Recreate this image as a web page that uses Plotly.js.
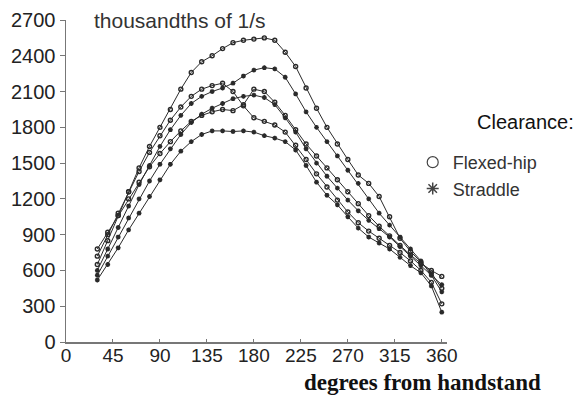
<!DOCTYPE html>
<html>
<head>
<meta charset="utf-8">
<script src="https://cdn.plot.ly/plotly-3.0.1.min.js"></script>
<style>html,body{margin:0;padding:0;background:#fff;}#chart{width:580px;height:396px;}</style>
</head>
<body>
<div id="chart"></div>
<script>
// degrees from handstand
const degrees = [30,40,50,60,70,80,90,100,110,120,130,140,150,160,170,180,190,200,210,220,230,240,250,260,270,280,290,300,310,320,330,340,350,360];
// angular velocity, thousandths of 1/s
const flexed1 = [650,850,1060,1260,1460,1640,1800,1950,2120,2260,2350,2400,2460,2510,2530,2540,2550,2530,2430,2310,2130,1960,1800,1660,1530,1400,1330,1220,1050,870,760,670,580,450];
const straddle1 = [600,780,960,1140,1320,1480,1640,1780,1900,2000,2060,2100,2130,2170,2230,2280,2300,2290,2220,2080,1930,1800,1680,1560,1440,1330,1200,1080,980,880,780,680,560,420];
const flexed2 = [720,900,1080,1260,1430,1590,1730,1860,1970,2060,2120,2150,2170,2100,1980,1880,1850,1820,1760,1650,1530,1410,1300,1190,1090,1000,930,870,810,750,680,600,500,320];
const straddle2 = [560,720,880,1040,1200,1350,1490,1620,1740,1840,1910,1960,2000,2040,2060,2070,2050,1990,1880,1760,1620,1500,1390,1290,1190,1100,1020,950,880,800,720,640,560,480];
const flexed3 = [780,920,1060,1200,1340,1470,1580,1680,1770,1850,1900,1930,1950,1940,1990,2120,2100,2010,1900,1780,1660,1560,1460,1360,1260,1160,1060,970,890,810,730,660,600,550];
const straddle3 = [520,650,790,940,1080,1220,1360,1490,1600,1680,1740,1770,1770,1765,1770,1760,1730,1710,1680,1610,1480,1340,1230,1150,1050,955,880,830,780,710,640,580,470,250];
const xTicks = [0,45,90,135,180,225,270,315,360];
const yTicks = [0,300,600,900,1200,1500,1800,2100,2400,2700];

const series = [
  {y: flexed1, sym: 'circle-open'},
  {y: straddle1, sym: 'asterisk-open'},
  {y: flexed2, sym: 'circle-open'},
  {y: straddle2, sym: 'asterisk-open'},
  {y: flexed3, sym: 'circle-open'},
  {y: straddle3, sym: 'asterisk-open'}
];
const ink = '#2a2a2a';
const traces = series.map(s => ({
  x: degrees, y: s.y, type: 'scatter', mode: 'lines+markers',
  line: {color: ink, width: 1},
  marker: {symbol: s.sym, size: 4, color: ink, line: {color: ink, width: 1.4}},
  showlegend: false, hoverinfo: 'skip'
}));
// legend-only entries
traces.push({x: [null], y: [null], type: 'scatter', mode: 'markers', name: 'Flexed-hip',
  marker: {symbol: 'circle-open', size: 11, color: '#444', line: {width: 1.2, color: '#444'}}});
traces.push({x: [null], y: [null], type: 'scatter', mode: 'markers', name: 'Straddle',
  marker: {symbol: 'asterisk-open', size: 10, color: '#444', line: {width: 1.5, color: '#444'}}});

const font = 'Liberation Sans, Arial, sans-serif';
const layout = {
  width: 580, height: 396,
  margin: {l: 66, r: 133, t: 20, b: 54},
  paper_bgcolor: '#fff', plot_bgcolor: '#fff',
  font: {family: font, size: 20, color: '#222'},
  xaxis: {
    range: [0, 365], tickvals: xTicks, ticktext: xTicks.map(String),
    showgrid: false, zeroline: false, showline: true, linecolor: '#777', linewidth: 1.5,
    ticks: 'inside', ticklen: 3, tickcolor: '#777', tickfont: {size: 19, color: '#222'},
    ticklabelstandoff: -4
  },
  yaxis: {
    range: [0, 2700], tickvals: yTicks, ticktext: yTicks.map(String),
    showgrid: false, zeroline: false, showline: true, linecolor: '#777', linewidth: 1.5,
    ticks: 'outside', ticklen: 5, tickcolor: '#777', tickfont: {size: 20, color: '#222'}
  },
  showlegend: true,
  legend: {x: 0.91, y: 0.615, xanchor: 'left', yanchor: 'top', bgcolor: 'rgba(0,0,0,0)',
    font: {size: 18, color: '#333'}, tracegroupgap: 0, itemwidth: 30},
  annotations: [
    {text: 'thousandths of 1/s', xref: 'paper', yref: 'paper', x: 0.068, y: 1.0,
     xanchor: 'left', yanchor: 'middle', showarrow: false, font: {size: 21, color: '#333'}},
    {text: '<b>degrees from handstand</b>', xref: 'paper', yref: 'paper', x: 0.937, y: -0.127,
     xanchor: 'center', yanchor: 'middle', showarrow: false, borderpad: 0,
     font: {family: 'Liberation Serif, Times New Roman, serif', size: 23, color: '#111'}},
    {text: 'Clearance:', xref: 'paper', yref: 'paper', x: 1.205, y: 0.683,
     xanchor: 'center', yanchor: 'middle', showarrow: false, font: {size: 20, color: '#111'}}
  ]
};
Plotly.newPlot('chart', traces, layout, {displayModeBar: false, staticPlot: true});
</script>
</body>
</html>
